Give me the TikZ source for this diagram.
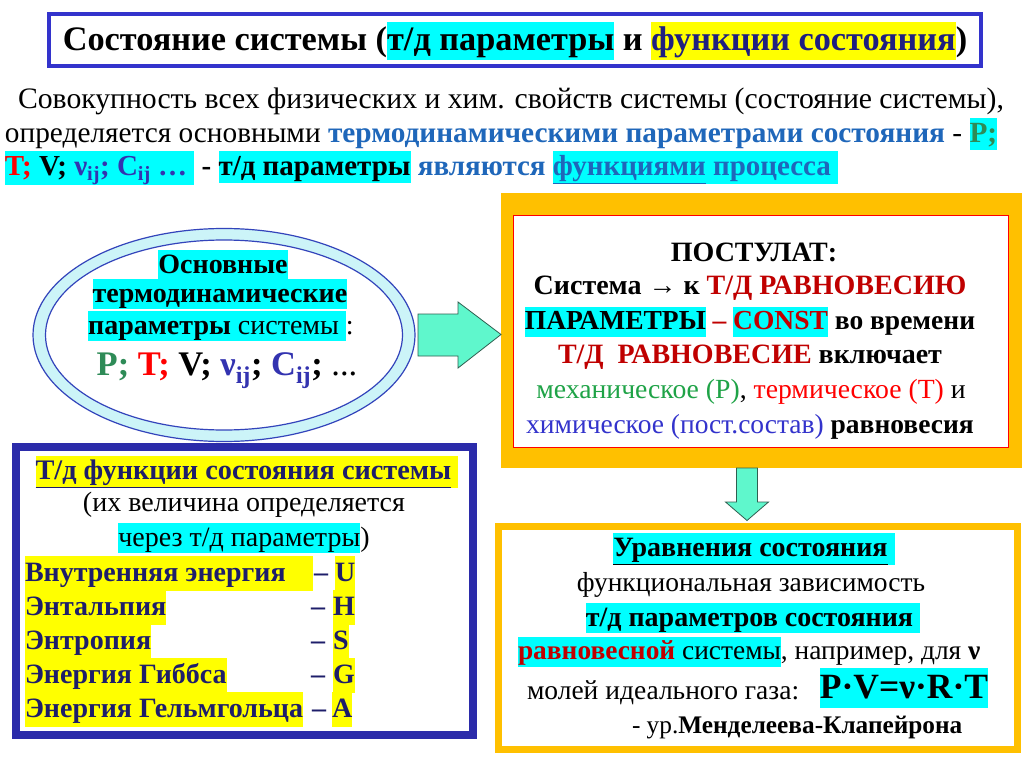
\documentclass[tikz,border=0pt]{standalone}
\usepackage{fontspec}
\setmainfont{Liberation Serif}
\usetikzlibrary{shapes.geometric,calc}
\definecolor{cyanc}{HTML}{00FFFF}
\definecolor{yelc}{HTML}{FFFF00}
\definecolor{navyt}{HTML}{1F1F80}
\definecolor{navyr}{HTML}{1E1E6A}
\definecolor{pblue}{HTML}{1F67BA}
\definecolor{pgreen}{HTML}{2E8B57}
\definecolor{mgreen}{HTML}{1FA347}
\definecolor{redc}{HTML}{FF0000}
\definecolor{dred}{HTML}{C00000}
\definecolor{nublue}{HTML}{3333B0}
\definecolor{chblue}{HTML}{3333CC}
\definecolor{titleblue}{HTML}{3333CC}
\definecolor{boxblue}{HTML}{2B2BAA}
\definecolor{orangec}{HTML}{FFC000}
\definecolor{ringc}{HTML}{CCF4F8}
\definecolor{elblue}{HTML}{3344BB}
\definecolor{arrowc}{HTML}{5FF7CC}
\definecolor{arrowd}{HTML}{2F5F50}
\newcommand\fsz[1]{\fontsize{#1}{#1}\selectfont}
\newcommand\myhs{\rule[-0.26em]{0pt}{1.1em}}
\newcommand\myrs{\rule[-0.33em]{0pt}{1.25em}}
\newcommand\hlbox[2]{{\setlength{\fboxsep}{0pt}\colorbox{#1}{\myhs#2}}}
\newcommand\hrbox[2]{{\setlength{\fboxsep}{0pt}\colorbox{#1}{\myrs#2}}}
\tikzset{
  every node/.style={inner sep=0pt, outer sep=0pt},
  blockarrow/.style={fill=arrowc, draw=arrowd, line width=0.8pt, line join=miter},
  rowtxt/.style={anchor=west, font=\fsz{28}\bfseries\color{navyr}},
}
\begin{document}
\begin{tikzpicture}[x=1pt,y=-1pt]
\useasboundingbox (0,0) rectangle (1024,767);
\fill[white] (0,0) rectangle (1024,767);

% title
\node[draw=titleblue, line width=4pt, fill=white, minimum width=932pt, minimum height=52pt, anchor=north west] (tbox) at (49,14) {};
\node (title) at (515,41) {\fsz{34.3}\bfseries Состояние системы (\hlbox{cyanc}{т/д параметры} и \hlbox{yelc}{\color{navyt}функции состояния})};

% paragraph
\node[anchor=west] (p1) at (18,101) {\fsz{29.7}Совокупность всех физических и хим. свойств системы (состояние системы),};
\node[anchor=west] (p2) at (5,134) {\fsz{29.3}определяется основными \textcolor{pblue}{\bfseries термодинамическими параметрами состояния} - \hlbox{cyanc}{\textcolor{pgreen}{\bfseries P;}}};
\node[anchor=west] (p3) at (5,168) {\fsz{29}\bfseries\hlbox{cyanc}{\textcolor{redc}{T;} V; \textcolor{nublue}{ν\textsubscript{ij}; C\textsubscript{ij} …} } - \hlbox{cyanc}{т/д параметры} \textcolor{pblue}{являются \hlbox{cyanc}{\underline{функциями} процесса }}};

% ellipse
\node[ellipse, draw=elblue, line width=1.2pt, fill=ringc, minimum width=382pt, minimum height=213pt] (ell) at (224,335) {};
\node[ellipse, draw=elblue, line width=1.2pt, fill=white, minimum width=357pt, minimum height=190pt] (elli) at (ell.center) {};
\node (e1) at (223,265) {\fsz{28}\bfseries\hlbox{cyanc}{Основные}};
\node (e2) at (220,294) {\fsz{28}\bfseries\hlbox{cyanc}{термодинамические}};
\node (e3) at (221,326) {\fsz{28}\hlbox{cyanc}{\textbf{параметры} системы }:};
\node (e4) at (227,371) {\fsz{34.5}\bfseries\textcolor{pgreen}{P;} \textcolor{redc}{T;} V; \textcolor{nublue}{ν\textsubscript{ij}}; \textcolor{nublue}{C\textsubscript{ij}}; \mdseries ...};

% postulate box
\node[fill=orangec, minimum width=521pt, minimum height=275pt, anchor=north west] (post) at (501,193) {};
\node[draw=redc, line width=0.8pt, fill=white, minimum width=495pt, minimum height=232pt, anchor=north west] (posti) at (513,215) {};
\node (q1) at (754,252) {\fsz{28}\bfseries ПОСТУЛАТ:};
\node (q2) at (750,288) {\fsz{28}\bfseries Система → к \textcolor{dred}{Т/Д РАВНОВЕСИЮ}};
\node (q3) at (750,322) {\fsz{27.5}\bfseries\hlbox{cyanc}{ПАРАМЕТРЫ} \textcolor{dred}{–} \hlbox{cyanc}{\textcolor{dred}{CONST}} во времени};
\node (q4) at (750,357) {\fsz{28}\bfseries\textcolor{dred}{Т/Д\ \ РАВНОВЕСИЕ} включает};
\node (q5) at (751,392) {\fsz{27.7}\textcolor{mgreen}{механическое (Р)}, \textcolor{redc}{термическое (Т)} и};
\node (q6) at (750,427) {\fsz{27.5}\textcolor{chblue}{химическое (пост.состав)} \textbf{равновесия}};

% left functions box
\node[draw=boxblue, line width=8pt, fill=white, minimum width=457pt, minimum height=288pt, anchor=north west] (fbox) at (16,447) {};
\node (f1) at (247,472) {\fsz{28.3}\bfseries\color{navyr}\hlbox{yelc}{\underline{Т/д функции состояния системы} }};
\node (f2) at (244,505) {\fsz{28}(их величина определяется};
\node (f3) at (244,538) {\fsz{28}\hlbox{cyanc}{через т/д параметры})};
\node[rowtxt] (r1) at (25,573) {\hrbox{yelc}{\makebox[288pt][l]{Внутренняя энергия}}};
\node[rowtxt] (r2) at (25,607) {\hrbox{yelc}{Энтальпия}};
\node[rowtxt] (r3) at (25,641) {\hrbox{yelc}{Энтропия}};
\node[rowtxt] (r4) at (25,675) {\hrbox{yelc}{Энергия Гиббса}};
\node[rowtxt] (r5) at (25,709) {\hrbox{yelc}{Энергия Гельмгольца}};
\node[rowtxt] (d1) at (314,573) {\myrs–};
\node[rowtxt] (d2) at (311,607) {\myrs–};
\node[rowtxt] (d3) at (311,641) {\myrs–};
\node[rowtxt] (d4) at (311,675) {\myrs–};
\node[rowtxt] (d5) at (312,709) {\myrs–};
\node[rowtxt] (l1) at (335,573) {\hrbox{yelc}{U}};
\node[rowtxt] (l2) at (333,607) {\hrbox{yelc}{H}};
\node[rowtxt] (l3) at (333,641) {\hrbox{yelc}{S}};
\node[rowtxt] (l4) at (333,675) {\hrbox{yelc}{G}};
\node[rowtxt] (l5) at (332,709) {\hrbox{yelc}{A}};

% equations box
\node[draw=orangec, line width=7pt, fill=white, minimum width=519pt, minimum height=223pt, anchor=north west] (eqs) at (498.5,526.5) {};
\node (s1) at (754,549) {\fsz{28}\bfseries\hlbox{cyanc}{\underline{Уравнения состояния} }};
\node (s2) at (751,585) {\fsz{27.5}функциональная зависимость};
\node (s3) at (753,618) {\fsz{28}\bfseries\hlbox{cyanc}{т/д параметров состояния }};
\node[anchor=west] (s4) at (518,652) {\fsz{27.4}\hlbox{cyanc}{\textcolor{dred}{\bfseries равновесной} системы}, например, для \textbf{ν}};
\node[anchor=west] (s5) at (527,693) {\fsz{27.5}молей идеального газа:};
\node (s6) at (904,688) {\fsz{35.5}\bfseries\hlbox{cyanc}{P·V=ν·R·T}};
\node[anchor=west] (s7) at (632,728) {\fsz{25.3}- ур.\textbf{Менделеева-Клапейрона}};

% block arrows
\coordinate (ra0) at ($(ell.east)+(3,0)$);
\draw[blockarrow] (ra0) ++(0,-21) -- ++(40,0) -- ++(0,-12) -- ($(post.west)+(0,4)$) -- ($(ra0)+(40,33)$) -- ++(0,-12) -- ++(-40,0) -- cycle;
\coordinate (da0) at ($(post.south)+(-14.5,0)$);
\draw[blockarrow] (da0) ++(-10.5,0) -- ++(21,0) -- ++(0,34) -- ++(11,0) -- ($(eqs.north)+(-11,-6)$) -- ($(da0)+(-21.5,34)$) -- ++(11,0) -- cycle;
\end{tikzpicture}
\end{document}
